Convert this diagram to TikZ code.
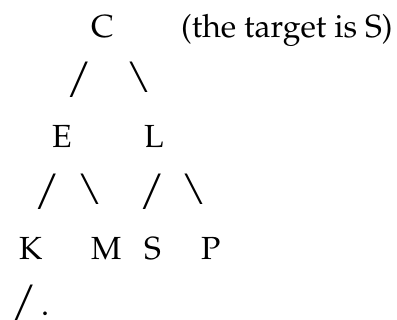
\documentclass[tikz,border=0pt]{standalone}
\usepackage[T1]{fontenc}
\usepackage{mathpazo}
\begin{document}
\begin{tikzpicture}[
    x=1pt, y=-1pt,
    glyph/.style={inner sep=0pt, anchor=base west, font=\fontsize{32}{38}\selectfont},
    slash/.style={glyph, font=\fontsize{42}{48}\selectfont}
]
\useasboundingbox (0,0) rectangle (397,320);

% Root and remark
\node[glyph] (c) at (91,37.5) {C};
\node[glyph] (note) at (181,37.5) {(the target is S)};

% Branches under C
\node[slash] (cl) at (66,93) {/};
\node[slash] (cr) at (126,93) {\textbackslash};

% Second level
\node[glyph] (e) at (52,147.5) {E};
\node[glyph] (l) at (144,147.5) {L};

% Branches under E and L
\node[slash] (el) at (34,205) {/};
\node[slash] (er) at (77,205) {\textbackslash};
\node[slash] (ll) at (139,205) {/};
\node[slash] (lr) at (181,205) {\textbackslash};

% Leaves
\node[glyph] (k) at (19,260) {K};
\node[glyph] (m) at (91,260) {M};
\node[glyph] (s) at (144,260) {S};
\node[glyph] (p) at (201,260) {P};

% Last row
\node[slash] (kl) at (11,316) {/};
\node[glyph] (dot) at (41,315.5) {.};

\end{tikzpicture}
\end{document}
